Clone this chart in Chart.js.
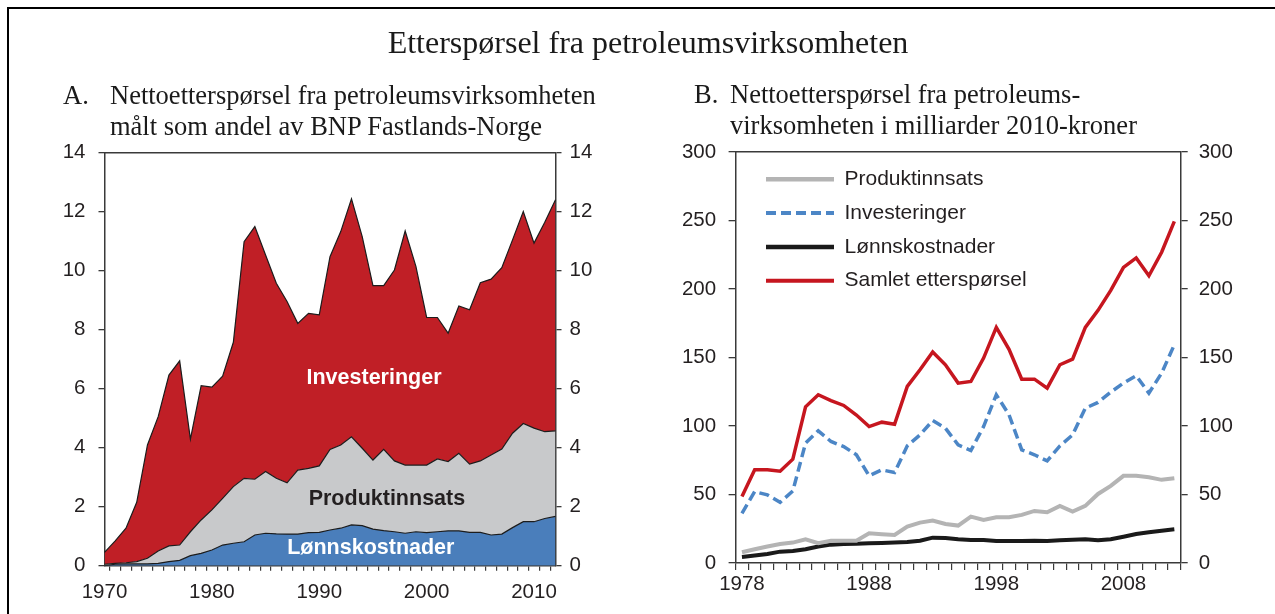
<!DOCTYPE html>
<html><head><meta charset="utf-8">
<script src="https://cdn.jsdelivr.net/npm/chart.js@4.4.1/dist/chart.umd.min.js"></script>
<style>
html,body{margin:0;padding:0;background:#fff;width:1275px;height:614px;overflow:hidden;position:relative;}
#frame{position:absolute;left:7px;top:7px;width:1300px;height:700px;border-left:2.5px solid #000;border-top:2.5px solid #000;}
.t{position:absolute;font-family:"Liberation Serif","Times New Roman",serif;color:#1a1a1a;white-space:nowrap;}
.sub{font-size:26.5px;line-height:31px;}
canvas{position:absolute;top:0;}
</style></head><body>
<div id="frame"></div>
<canvas id="cA" width="640" height="614" style="left:0"></canvas>
<canvas id="cB" width="635" height="614" style="left:640px"></canvas>
<div class="t" style="left:0;width:1296px;text-align:center;top:24px;font-size:32px;line-height:36px;">Etterspørsel fra petroleumsvirksomheten</div>
<div class="t sub" style="left:63px;top:80px;">A.</div>
<div class="t sub" style="left:110px;top:80px;">Nettoetterspørsel fra petroleumsvirksomheten<br>målt som andel av BNP Fastlands-Norge</div>
<div class="t sub" style="left:694px;top:79px;">B.</div>
<div class="t sub" style="left:730px;top:79px;">Nettoetterspørsel fra petroleums-<br>virksomheten i milliarder 2010-kroner</div>
<script>
// ---------- Panel A data (share of mainland GDP, %) ----------
const yearsA = ['1970','1971','1972','1973','1974','1975','1976','1977','1978','1979','1980','1981','1982','1983','1984','1985','1986','1987','1988','1989','1990','1991','1992','1993','1994','1995','1996','1997','1998','1999','2000','2001','2002','2003','2004','2005','2006','2007','2008','2009','2010','2011','2012'];
const lonnA = [0.00,0.05,0.06,0.06,0.06,0.08,0.14,0.18,0.34,0.42,0.53,0.70,0.76,0.81,1.04,1.10,1.08,1.07,1.07,1.12,1.13,1.21,1.27,1.38,1.36,1.24,1.19,1.15,1.10,1.15,1.12,1.15,1.18,1.18,1.13,1.13,1.04,1.07,1.29,1.49,1.49,1.60,1.67];
const produktA = [0.05,0.03,0.04,0.08,0.19,0.42,0.53,0.52,0.81,1.13,1.36,1.58,1.92,2.15,1.89,2.09,1.88,1.74,2.17,2.18,2.25,2.73,2.82,2.99,2.62,2.34,2.75,2.40,2.31,2.26,2.29,2.47,2.35,2.63,2.31,2.42,2.71,2.88,3.20,3.33,3.17,2.94,2.90];
const investA = [0.40,0.76,1.17,2.01,3.84,4.55,5.79,6.24,3.14,4.55,4.16,4.14,4.89,8.02,8.56,7.34,6.61,6.14,4.97,5.25,5.12,6.53,7.23,8.06,7.17,5.91,5.55,6.47,7.93,6.73,5.00,4.79,4.35,4.99,5.23,6.04,5.96,6.15,6.55,7.18,6.27,7.10,7.83];
const tickYearsA = ['1970','1980','1990','2000','2010'];

// ---------- Panel B data (billion 2010-NOK) ----------
const yearsB = ['1978','1979','1980','1981','1982','1983','1984','1985','1986','1987','1988','1989','1990','1991','1992','1993','1994','1995','1996','1997','1998','1999','2000','2001','2002','2003','2004','2005','2006','2007','2008','2009','2010','2011','2012'];
const produktB = [7.8,10,12,13.9,14.9,17.3,14.4,16.3,16.3,16.3,21.7,21,20.5,26.6,29.5,31,28.5,27.3,33.9,31.4,33.4,33.4,35.1,38,37,41.7,37.5,41.7,50.4,56.3,63.6,63.6,62.6,60.7,61.9];
const investB = [36.3,52.1,49.7,44.3,52.6,87.5,96.5,88.7,85,79,63.6,68,66,85.5,93.5,104,98.4,86.2,82.1,99.6,122.8,108.2,82.6,79,74.5,85.5,93.5,113,117.2,124.7,131.3,136.7,124,138.6,159.3];
const lonnB = [4.4,5.4,6.6,8.3,8.8,10,12,13.4,13.9,14.1,14.4,14.6,14.9,15.3,16.3,18.5,18.3,17.3,16.8,16.8,16.1,16.1,16.1,16.3,16.1,16.6,17,17.3,16.6,17.3,19.2,21.2,22.4,23.6,24.6];
const samletB = [48.5,68,68,67,75.8,114,122.8,118.6,115,108,99.6,102.8,101.3,128.9,141,154,144.7,131.3,132.5,149.6,172,156,134.2,134.2,127.6,144.7,148.8,172,184.4,199,215.8,222.7,209.7,226.8,249.4];
const tickYearsB = ['1978','1988','1998','2008'];

// ---------- styling ----------
const SANS = '"Liberation Sans", Arial, sans-serif';
const AXIS = '#3a3a3a';
const TXT = '#231f20';
const tickFont = {family: SANS, size: 20.5};

const annotA = [
  {text: 'Investeringer', x: 25.1, y: 6.36, color: '#ffffff'},
  {text: 'Produktinnsats', x: 26.3, y: 2.26, color: '#231f20'},
  {text: 'Lønnskostnader', x: 24.8, y: 0.60, color: '#ffffff'}
];
const annotPlugin = {
  id: 'annot',
  afterDatasetsDraw(chart) {
    const {ctx, scales} = chart;
    ctx.save();
    ctx.font = 'bold 21.5px ' + SANS;
    ctx.textAlign = 'center';
    ctx.textBaseline = 'middle';
    annotA.forEach(a => {
      ctx.fillStyle = a.color;
      ctx.fillText(a.text, scales.x.getPixelForValue(a.x), scales.y.getPixelForValue(a.y));
    });
    ctx.restore();
  }
};

function yAxis(pos, max, step, width, pad, tl) {
  return {
    position: pos, min: 0, max: max,
    ticks: {stepSize: step, padding: pad, font: tickFont, color: TXT},
    grid: {drawOnChartArea: false, drawTicks: true, tickLength: tl, color: AXIS, lineWidth: 1.3},
    border: {display: true, color: AXIS, width: 1.5},
    afterFit: s => { s.width = width; }
  };
}
const topAxis = {
  type: 'linear', position: 'top', min: 0, max: 1,
  ticks: {display: false}, grid: {display: false, drawTicks: false},
  border: {display: true, color: AXIS, width: 1.5},
  afterFit: s => { s.height = 0; }
};

// ---------- Chart A ----------
const yA = yAxis('left', 14, 2, 104.5, 13, 6); yA.stacked = true;
new Chart(document.getElementById('cA'), {
  type: 'line',
  data: {
    labels: yearsA,
    datasets: [
      {label: 'Lønnskostnader', data: lonnA, backgroundColor: '#4A7EBB', borderColor: '#1c1c1c', borderWidth: 1.2, fill: 'origin', pointRadius: 0, tension: 0},
      {label: 'Produktinnsats', data: produktA, backgroundColor: '#C8C9CB', borderColor: '#1c1c1c', borderWidth: 1.2, fill: '-1', pointRadius: 0, tension: 0},
      {label: 'Investeringer', data: investA, backgroundColor: '#C01F26', borderColor: '#1c1c1c', borderWidth: 1.2, fill: '-1', pointRadius: 0, tension: 0}
    ]
  },
  options: {
    responsive: false, animation: false, devicePixelRatio: 1,
    layout: {padding: {top: 152.5, left: 0, right: 0, bottom: 0}},
    plugins: {legend: {display: false}, tooltip: {enabled: false}},
    scales: {
      x: {
        type: 'category', offset: false,
        grid: {offset: true, drawOnChartArea: false, drawTicks: true, tickLength: 5, color: AXIS, lineWidth: 1.2},
        border: {display: true, color: AXIS, width: 1.5},
        ticks: {autoSkip: false, maxRotation: 0, minRotation: 0, padding: 9.5, font: tickFont, color: TXT,
          callback: (v, i) => tickYearsA.includes(yearsA[i]) ? yearsA[i] : ''},
        afterFit: s => { s.height = 48.3; }
      },
      xTop: topAxis,
      y: yA,
      y2: yAxis('right', 14, 2, 84.5, 8, 6)
    }
  },
  plugins: [annotPlugin]
});

// ---------- Chart B ----------
const legendShift = {
  id: 'legendShift',
  afterLayout(chart) {
    const l = chart.legend;
    if (l) {
      l.left = chart.chartArea.left + 17.6;
      l.top = chart.chartArea.top + 4;
      l.bottom = chart.chartArea.bottom;
      l.height = l.bottom - l.top;
    }
  }
};
new Chart(document.getElementById('cB'), {
  type: 'line',
  data: {
    labels: yearsB,
    datasets: [
      {label: 'Produktinnsats', data: produktB, borderColor: '#B4B4B4', backgroundColor: '#B4B4B4', borderWidth: 4, pointRadius: 0, tension: 0, fill: false, borderCapStyle: 'butt'},
      {label: 'Investeringer', data: investB, borderColor: '#4C86C6', backgroundColor: '#4C86C6', borderWidth: 3.5, borderDash: [10, 5], pointRadius: 0, tension: 0, fill: false, borderCapStyle: 'butt'},
      {label: 'Lønnskostnader', data: lonnB, borderColor: '#1a1a1a', backgroundColor: '#1a1a1a', borderWidth: 4, pointRadius: 0, tension: 0, fill: false, borderCapStyle: 'butt'},
      {label: 'Samlet etterspørsel', data: samletB, borderColor: '#C6161F', backgroundColor: '#C6161F', borderWidth: 3.5, pointRadius: 0, tension: 0, fill: false, borderCapStyle: 'butt'}
    ]
  },
  options: {
    responsive: false, animation: false, devicePixelRatio: 1,
    layout: {padding: {top: 152, left: 0, right: 0, bottom: 0}},
    plugins: {
      tooltip: {enabled: false},
      legend: {
        position: 'chartArea', align: 'start',
        labels: {usePointStyle: true, pointStyle: 'line', pointStyleWidth: 68, padding: 12.8,
          font: {family: SANS, size: 21}, color: TXT,
          generateLabels: chart => Chart.defaults.plugins.legend.labels.generateLabels(chart).map(it => {
            const ds = chart.data.datasets[it.datasetIndex];
            return Object.assign(it, {lineDash: ds.borderDash || [], lineWidth: ds.borderWidth + 0.5, strokeStyle: ds.borderColor, lineCap: 'butt'});
          })}
      }
    },
    scales: {
      x: {
        type: 'category', offset: true,
        grid: {offset: true, drawOnChartArea: false, drawTicks: true, tickLength: 7, color: AXIS, lineWidth: 1.2},
        border: {display: true, color: AXIS, width: 1.5},
        ticks: {autoSkip: false, maxRotation: 0, minRotation: 0, padding: 2, font: tickFont, color: TXT,
          callback: (v, i) => tickYearsB.includes(yearsB[i]) ? yearsB[i] : ''},
        afterFit: s => { s.height = 51; }
      },
      xTop: topAxis,
      y: yAxis('left', 300, 50, 95.6, 12.5, 7),
      y2: yAxis('right', 300, 50, 94.3, 11, 7)
    }
  },
  plugins: [legendShift]
});
</script>
</body></html>
